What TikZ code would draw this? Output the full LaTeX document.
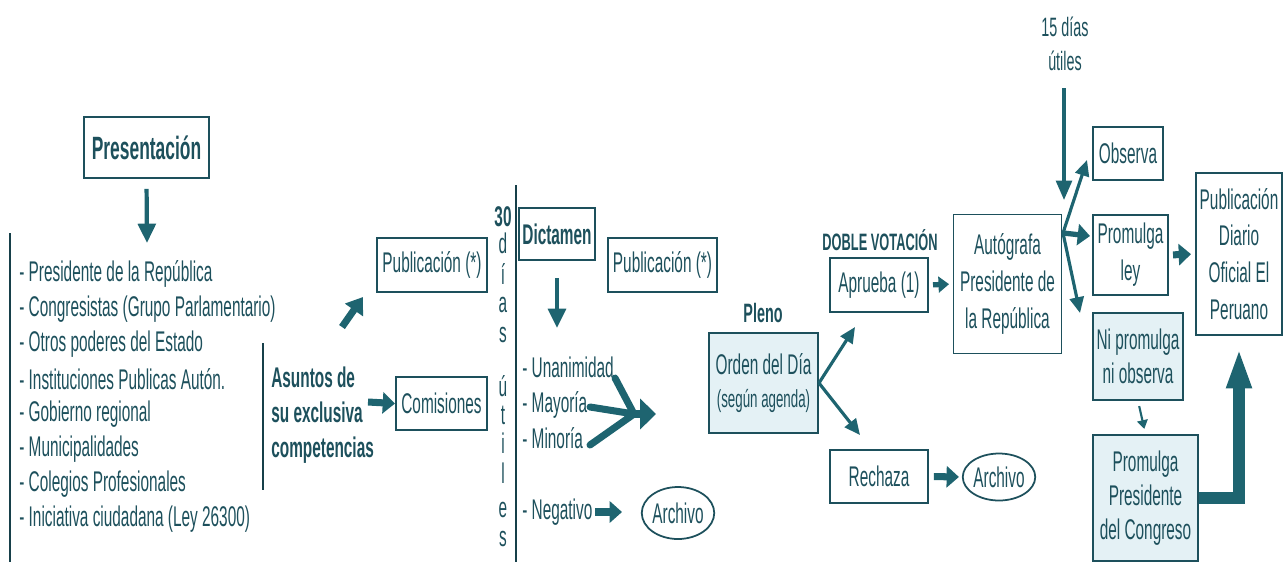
\documentclass[tikz,border=0pt]{standalone}
\usepackage{fontspec}
\setmainfont{Liberation Sans}[Scale=1.08,FakeStretch=0.54]
\usetikzlibrary{arrows.meta,shapes.geometric}
\definecolor{tealtxt}{RGB}{29,80,92}
\definecolor{tealarr}{RGB}{30,100,112}
\definecolor{paleblue}{RGB}{228,241,245}

\begin{document}
\begin{tikzpicture}[x=0.02cm,y=-0.02cm,
    every node/.style={text=tealtxt,font=\fontsize{15}{21}\selectfont},
    head/.style={font=\fontsize{15}{20}\selectfont\bfseries},
    box/.style={draw=tealtxt,line width=1.1pt,align=center,inner sep=1pt},
    shaded/.style={box,fill=paleblue},
    oval/.style={ellipse,draw=tealtxt,line width=1pt,inner sep=0pt},
    rule/.style={draw=tealtxt!80!black,line width=1.1pt},
    fat/.style={draw=tealarr,line width=4pt,-{Triangle[length=7pt,width=12pt]}},
    slim/.style={draw=tealarr,line width=1.8pt,-{Triangle[length=9pt,width=8pt]}},
    drop/.style={draw=tealarr,line width=2.4pt,-{Triangle[length=11pt,width=10pt]}}]
    \useasboundingbox (0,0) rectangle (1287,562);

    % boxes
    \node[box,head,font=\fontsize{17}{20}\selectfont\bfseries,minimum width=2.5cm,minimum height=1.22cm] (pres) at (146.5,147.5) {Presentación};
    \node[box,minimum width=2.2cm,minimum height=1.08cm] (pub1) at (432,265) {Publicación (*)};
    \node[box,minimum width=1.82cm,minimum height=1.06cm] (com) at (441.5,403.5) {Comisiones};
    \node[box,head,minimum width=1.52cm,minimum height=1.04cm] (dict) at (557,234) {Dictamen};
    \node[box,minimum width=2.18cm,minimum height=1.08cm] (pub2) at (662.5,265) {Publicación (*)};
    \node[shaded,minimum width=2.18cm,minimum height=2cm] (orden) at (763.5,383)
        {Orden del Día\\[-2pt]{\fontsize{13}{15}\selectfont(según agenda)}};
    \node[box,minimum width=1.96cm,minimum height=1.08cm] (apr) at (879,285) {Aprueba (1)};
    \node[box,minimum width=1.96cm,minimum height=1.06cm] (rech) at (879,476.5) {Rechaza};
    \node[box,minimum width=2.16cm,minimum height=2.78cm] (auto) at (1007.5,284)
        {Autógrafa\\Presidente de\\la República};
    \node[box,minimum width=1.4cm,minimum height=1.06cm] (obs) at (1128,153.5) {Observa};
    \node[box,minimum width=1.5cm,minimum height=1.6cm] (prom) at (1130.5,255) {Promulga\\ley};
    \node[box,minimum width=1.72cm,minimum height=3.24cm] (publ) at (1239,254)
        {Publicación\\Diario\\Oficial El\\Peruano};
    \node[shaded,font=\fontsize{15}{19}\selectfont,minimum width=1.8cm,minimum height=1.74cm] (nipr) at (1138,356.5)
        {Ni promulga\\ni observa};
    \node[shaded,font=\fontsize{15}{19.5}\selectfont,minimum width=2.1cm,minimum height=2.52cm] (prpr) at (1145.5,498)
        {Promulga\\Presidente\\del Congreso};
    \node[oval,minimum width=1.44cm,minimum height=1.04cm] (arch1) at (678,513) {Archivo};
    \node[oval,minimum width=1.44cm,minimum height=0.94cm] (arch2) at (999,477) {Archivo};

    % texts
    \foreach \entry [count=\i from 0] in {- Presidente de la República,
        - Congresistas (Grupo Parlamentario), - Otros poderes del Estado,
        - Instituciones Publicas Autón., - Gobierno regional, - Municipalidades,
        - Colegios Profesionales, - Iniciativa ciudadana (Ley 26300)}
        \node[anchor=west,inner sep=0pt] (src\i) at (19,274+35*\i) {\entry};
    \node[head,anchor=west,align=left,inner sep=0pt] (asu) at (271,415)
        {Asuntos de\\su exclusiva\\competencias};
    \node[head,inner sep=0pt] (t30) at (503,217) {30};
    \foreach \ch/\yy [count=\k] in {d/243,í/274,a/305,s/335,ú/386,t/415,i/443,l/473,e/510,s/539}
        \node[inner sep=0pt] (v\k) at (503,\yy) {\ch};
    \node[anchor=west,inner sep=0pt] (una) at (522,367) {- Unanimidad};
    \node[anchor=west,inner sep=0pt] (may) at (522,405) {- Mayoría};
    \node[anchor=west,inner sep=0pt] (min) at (522,438) {- Minoría};
    \node[anchor=west,inner sep=0pt] (neg) at (522,512) {- Negativo};
    \node[head,font=\fontsize{14}{18}\selectfont\bfseries] (pleno) at (763,313) {Pleno};
    \node[head,font=\fontsize{12.5}{15}\selectfont\bfseries] (doble) at (880,240) {DOBLE VOTACIÓN};
    \node[align=center,font=\fontsize{14}{19}\selectfont] (plazo) at (1065,44) {15 días\\útiles};

    % rules
    \draw[rule] (10,233) -- (10,562);
    \draw[rule,line width=0.9pt] (263,343) -- (263,490);
    \draw[rule] (516,185) -- (516,562);

    % free ends
    \coordinate (presend) at (147,243);
    \coordinate (diaga) at (342,327);
    \coordinate (diagb) at (363,297);
    \coordinate (asuend) at (368,402);
    \coordinate (dictend) at (557,328);
    \coordinate (mu) at (615,378);
    \coordinate (mma) at (590,407);
    \coordinate (mmi) at (590,445);
    \coordinate (mj) at (634,414);
    \coordinate (mtip) at (656,414);
    \coordinate (nega) at (595,512);
    \coordinate (negb) at (622,512);
    \coordinate (upt) at (855,327);
    \coordinate (dnt) at (860,435);
    \coordinate (plazoa) at (1064,88);
    \coordinate (plazob) at (1064,200);
    \coordinate (fan) at (1063,233);
    \coordinate (fobs) at (1087,160);
    \coordinate (fprom) at (1090,236);
    \coordinate (fni) at (1080,313);

    % arrows
    \draw[drop,shorten <=5.7pt] (pres.south) -- (presend);
    \draw[fat,-{Triangle[length=9pt,width=12pt]}] (diaga) -- (diagb);
    \draw[fat] (asuend) -- (com.west);
    \draw[drop,shorten <=9.7pt] (dict.south) -- (dictend);
    \draw[tealarr,line width=4pt,line cap=round] (mu) -- (mj) (mma) -- (mj) (mmi) -- (mj);
    \draw[fat,-{Triangle[length=9pt,width=17pt]}] (mj) -- (mtip);
    \draw[fat] (nega) -- (negb);
    \draw[slim] (orden.east) -- (upt);
    \draw[slim] (orden.east) -- (dnt);
    \draw[draw=tealarr,line width=3pt,-{Triangle[length=6pt,width=9pt]},shorten <=2.3pt,shorten >=2pt] (apr.east) -- (auto.west);
    \draw[fat,shorten <=2.8pt,shorten >=1.7pt] (rech.east) -- (arch2.west);
    \draw[slim,-{Triangle[length=11pt,width=9pt]}] (plazoa) -- (plazob);
    \draw[slim] (fan) -- (fobs);
    \draw[fat,line width=3pt] (fan) -- (fprom);
    \draw[slim] (fan) -- (fni);
    \draw[fat,shorten <=2.3pt,shorten >=2.3pt] (prom.east) -- (publ.west);
    \draw[draw=tealarr,line width=1.2pt,-{Triangle[length=5pt,width=6pt]},shorten <=3pt,shorten >=3pt] (nipr.south) -- (prpr.north);
    \draw[draw=tealarr,line width=6.3pt,-{Triangle[length=23pt,width=13pt]},shorten >=6.8pt] (prpr.east) -| (publ.south);
\end{tikzpicture}
\end{document}
